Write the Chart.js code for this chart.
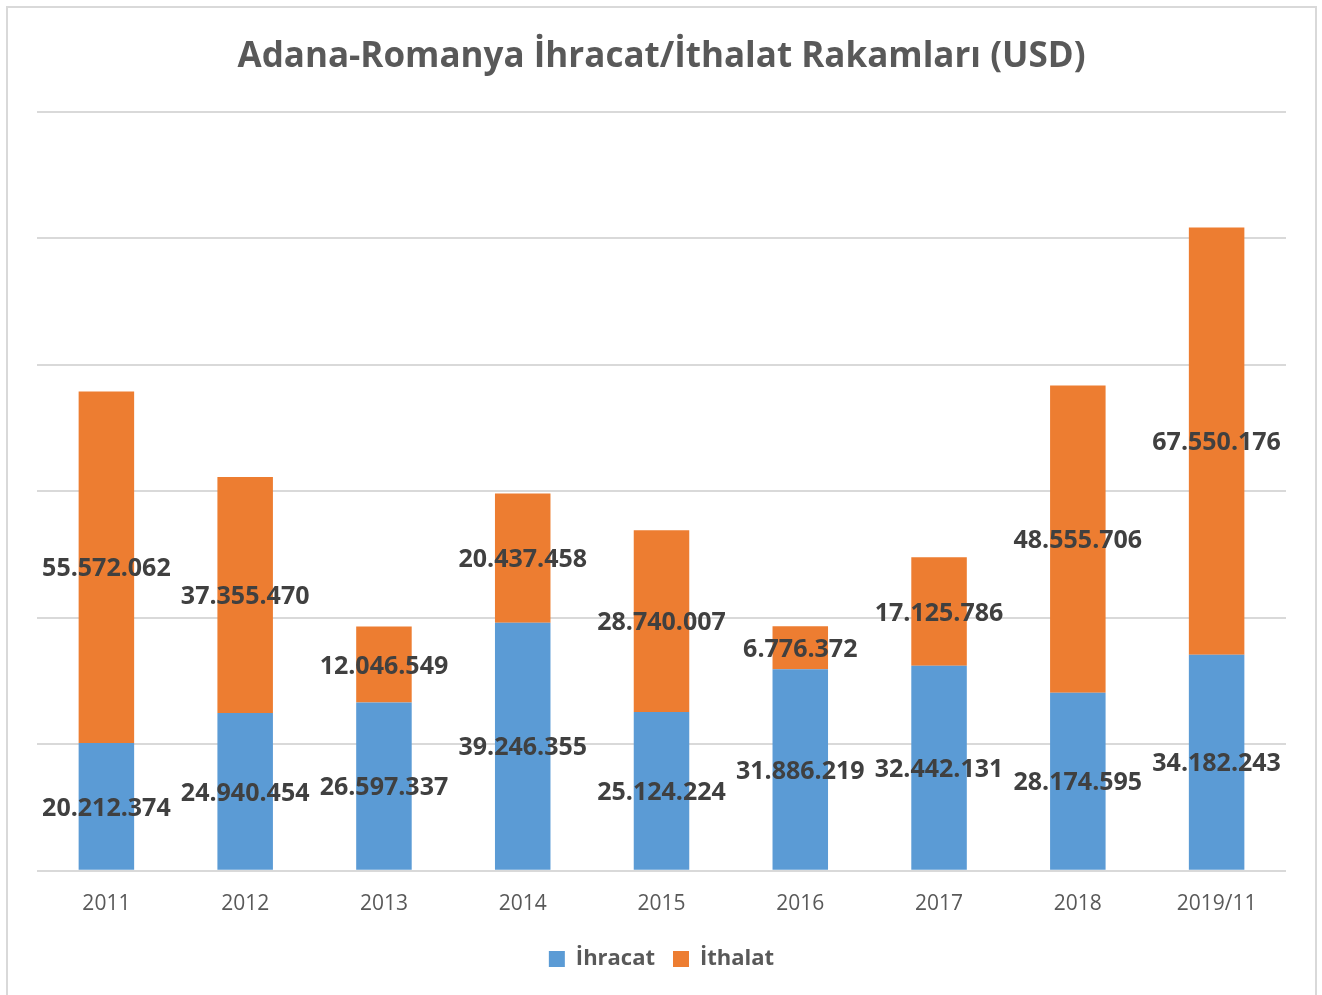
<!DOCTYPE html>
<html>
<head>
<meta charset="utf-8">
<script src="https://cdn.jsdelivr.net/npm/chart.js@4"></script>
<style>
  body { margin: 0; background: #fff; }
  #wrap { position: relative; width: 1322px; height: 995px; overflow: hidden; }
  #frame { position: absolute; left: 6px; top: 6px; width: 1307px; height: 1000px; border: 2px solid #d9d9d9; }
  canvas { position: absolute; left: 0; top: 0; }
</style>
</head>
<body>
<div id="wrap">
  <div id="frame"></div>
  <canvas id="chart" width="1322" height="995"></canvas>
</div>
<script>
'use strict';

const years = ['2011', '2012', '2013', '2014', '2015', '2016', '2017', '2018', '2019/11'];
const ihracat = [20212374, 24940454, 26597337, 39246355, 25124224, 31886219, 32442131, 28174595, 34182243];
const ithalat = [55572062, 37355470, 12046549, 20437458, 28740007, 6776372, 17125786, 48555706, 67550176];

const fontName = '"Open Sans", "DejaVu Sans", sans-serif';

function dotted(n) {
  return String(n).replace(/\B(?=(\d{3})+(?!\d))/g, '.');
}

// values written in the middle of each segment
const segmentLabels = {
  id: 'segmentLabels',
  afterDatasetsDraw: function(chart) {
    const ctx = chart.ctx;
    ctx.save();
    ctx.font = 'bold 25px ' + fontName;
    ctx.fillStyle = '#404040';
    ctx.textAlign = 'center';
    ctx.textBaseline = 'middle';
    chart.data.datasets.forEach(function(ds, i) {
      chart.getDatasetMeta(i).data.forEach(function(bar, j) {
        ctx.fillText(dotted(ds.data[j]), bar.x, (bar.y + bar.base) / 2 + 2);
      });
    });
    ctx.restore();
  }
};

new Chart(document.getElementById('chart'), {
  type: 'bar',
  data: {
    labels: years,
    datasets: [
      { label: 'İhracat', data: ihracat, backgroundColor: '#5b9bd5' },
      { label: 'İthalat', data: ithalat, backgroundColor: '#ed7d31' }
    ]
  },
  options: {
    responsive: false,
    animation: false,
    categoryPercentage: 1,
    barPercentage: 0.4,
    layout: { padding: { left: 37, right: 36, top: 10, bottom: 15 } },
    plugins: {
      title: {
        display: true,
        text: 'Adana-Romanya İhracat/İthalat Rakamları (USD)',
        color: '#595959',
        font: { family: fontName, size: 35, weight: 'bold' },
        padding: { top: 26, bottom: 34 }
      },
      legend: {
        position: 'bottom',
        labels: {
          color: '#595959',
          font: { family: fontName, size: 22, weight: 'bold' },
          boxWidth: 16,
          boxHeight: 16,
          padding: 18
        }
      },
      tooltip: { enabled: false }
    },
    scales: {
      x: {
        stacked: true,
        grid: { display: false },
        border: { display: false },
        ticks: { color: '#595959', font: { family: fontName, size: 21 }, padding: 13 }
      },
      y: {
        stacked: true,
        min: 0,
        max: 120000000,
        ticks: { display: false, stepSize: 20000000 },
        grid: { color: '#d9d9d9', lineWidth: 2, drawTicks: false },
        border: { display: false }
      }
    }
  },
  plugins: [segmentLabels]
});
</script>
</body>
</html>
